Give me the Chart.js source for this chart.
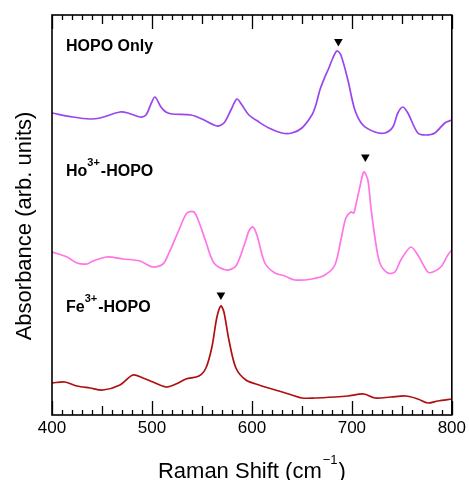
<!DOCTYPE html>
<html>
<head>
<meta charset="utf-8">
<script src="https://cdn.jsdelivr.net/npm/chart.js@4/dist/chart.umd.min.js"></script>
<style>
  html, body { margin: 0; padding: 0; background: #fff; }
  canvas { display: block; }
</style>
</head>
<body>
<canvas id="chart" width="469" height="480"></canvas>
<script>
// Raman spectra, offset vertically (arb. units)
const hopoShift = [400, 421, 438, 448, 468, 476, 488, 494, 499, 503, 509, 514, 520, 539, 550, 565, 572, 579, 585, 590, 597, 607, 617, 630, 640, 650, 660, 664, 668, 673, 677, 681, 685, 689, 696, 703, 711, 723, 733, 741, 746, 751, 756, 766, 774, 783, 793, 800];
const hopoValue = [302, 298, 296, 297, 303, 302, 298, 300, 311, 318, 308, 303, 301, 300, 296, 289, 292, 305, 316, 310, 300, 293, 287, 282, 282, 287, 300, 310, 325, 338, 347, 357, 364, 360, 335, 305, 290, 283, 282, 288, 302, 308, 302, 282, 280, 282, 292, 295];

const hoShift = [400, 415, 425, 435, 441, 455, 471, 488, 501, 511, 517, 527, 535, 542, 547, 554, 562, 574, 584, 594, 597, 601, 605, 613, 623, 633, 643, 660, 673, 683, 689, 694, 699, 702, 704, 708, 712, 716, 719, 723, 728, 736, 743, 749, 759, 766, 776, 781, 789, 796, 800];
const hoValue = [163, 158, 152, 151, 154, 158, 156, 154, 148, 151, 162, 185, 202, 203, 193, 173, 152, 145, 149, 175, 184, 188, 180, 152, 142, 139, 135, 136, 140, 150, 175, 197, 203, 202, 210, 228, 243, 235, 208, 178, 152, 142, 143, 155, 168, 160, 143, 143, 148, 160, 165];

const feShift = [400, 413, 425, 438, 451, 468, 481, 491, 501, 514, 524, 534, 547, 554, 560, 565, 569, 572, 577, 584, 594, 607, 627, 640, 650, 663, 683, 696, 712, 723, 739, 754, 766, 776, 786, 800];
const feValue = [32, 33, 29, 27, 25, 30, 40, 37, 33, 28, 31, 36, 39, 47, 68, 98, 109, 103, 75, 47, 35, 30, 24, 20, 17, 17, 18, 19, 21, 17, 18, 19, 16, 12, 14, 16];

// peak markers (triangles)
const markShift = [686.5, 713.5, 569];
const markValue = [373.5, 258, 120];

const FONT = 'Arial, "Liberation Sans", sans-serif';

const toPoints = (xs, ys) => xs.map((x, i) => ({ x: x, y: ys[i] }));

const line = (label, xs, ys, color) => ({
  type: 'line',
  label: label,
  data: toPoints(xs, ys),
  borderColor: color,
  borderWidth: 1.7,
  pointRadius: 0,
  tension: 0.3,
  fill: false
});

// frame, inward ticks, axis titles and trace labels
const decor = {
  id: 'decor',
  afterDraw(chart) {
    const ctx = chart.ctx;
    const a = chart.chartArea;
    const xs = chart.scales.x;
    ctx.save();
    ctx.strokeStyle = '#000';
    ctx.lineWidth = 1.6;
    ctx.strokeRect(a.left, a.top, a.right - a.left, a.bottom - a.top);

    ctx.lineWidth = 1.3;
    for (let v = 400; v <= 800; v += 10) {
      const px = Math.round(xs.getPixelForValue(v)) + 0.5;
      const len = v % 100 === 0 ? 14 : (v % 50 === 0 ? 9 : 5);
      ctx.beginPath();
      ctx.moveTo(px, a.bottom);
      ctx.lineTo(px, a.bottom - len);
      ctx.moveTo(px, a.top);
      ctx.lineTo(px, a.top + len);
      ctx.stroke();
    }

    ctx.fillStyle = '#000';
    ctx.textBaseline = 'alphabetic';

    // x title with superscript
    ctx.font = '22px ' + FONT;
    const t1 = 'Raman Shift (cm';
    const w1 = ctx.measureText(t1).width;
    ctx.font = '13px ' + FONT;
    const sup = '\u22121';
    const ws = ctx.measureText(sup).width;
    ctx.font = '22px ' + FONT;
    const w2 = ctx.measureText(')').width;
    let x0 = (a.left + a.right) / 2 - (w1 + ws + 2 + w2) / 2;
    ctx.textAlign = 'left';
    ctx.fillText(t1, x0, 478);
    ctx.font = '13px ' + FONT;
    ctx.fillText(sup, x0 + w1 + 1, 464);
    ctx.font = '22px ' + FONT;
    ctx.fillText(')', x0 + w1 + ws + 2, 478);

    // y title
    ctx.save();
    ctx.translate(25, 226);
    ctx.rotate(-Math.PI / 2);
    ctx.textAlign = 'center';
    ctx.textBaseline = 'middle';
    ctx.font = '22px ' + FONT;
    ctx.fillText('Absorbance (arb. units)', 0, 0);
    ctx.restore();

    // trace labels
    const label = (parts, y) => {
      let x = 66;
      ctx.textAlign = 'left';
      parts.forEach(p => {
        ctx.font = 'bold ' + (p.sup ? 11 : 16) + 'px ' + FONT;
        ctx.fillText(p.t, x, p.sup ? y - 10.5 : y);
        x += ctx.measureText(p.t).width + (p.sup ? 1 : 0);
      });
    };
    label([{ t: 'HOPO Only' }], 51);
    label([{ t: 'Ho' }, { t: '3+', sup: true }, { t: '-HOPO' }], 176);
    label([{ t: 'Fe' }, { t: '3+', sup: true }, { t: '-HOPO' }], 312);
    ctx.restore();
  }
};

new Chart(document.getElementById('chart'), {
  data: {
    datasets: [
      line('HOPO Only', hopoShift, hopoValue, '#9a45ee'),
      line('Ho3+-HOPO', hoShift, hoValue, '#ff74e6'),
      line('Fe3+-HOPO', feShift, feValue, '#b00f0f'),
      {
        type: 'scatter',
        label: 'peaks',
        data: toPoints(markShift, markValue),
        pointStyle: 'triangle',
        rotation: 180,
        pointRadius: 5,
        backgroundColor: '#000',
        borderColor: '#000',
        borderWidth: 0
      }
    ]
  },
  options: {
    responsive: false,
    animation: false,
    layout: { padding: { top: 15, right: 15, left: 0, bottom: 0 } },
    plugins: { legend: { display: false }, tooltip: { enabled: false } },
    scales: {
      x: {
        type: 'linear',
        min: 400,
        max: 800,
        grid: { display: false, drawTicks: false },
        border: { display: false },
        ticks: {
          stepSize: 100,
          padding: 3,
          color: '#000',
          font: { family: FONT, size: 17 }
        },
        afterFit(scale) { scale.height = 65; }
      },
      y: {
        min: 0,
        max: 400,
        grid: { display: false, drawTicks: false },
        border: { display: false },
        ticks: { display: false },
        afterFit(scale) { scale.width = 52; }
      }
    }
  },
  plugins: [decor]
});
</script>
</body>
</html>
